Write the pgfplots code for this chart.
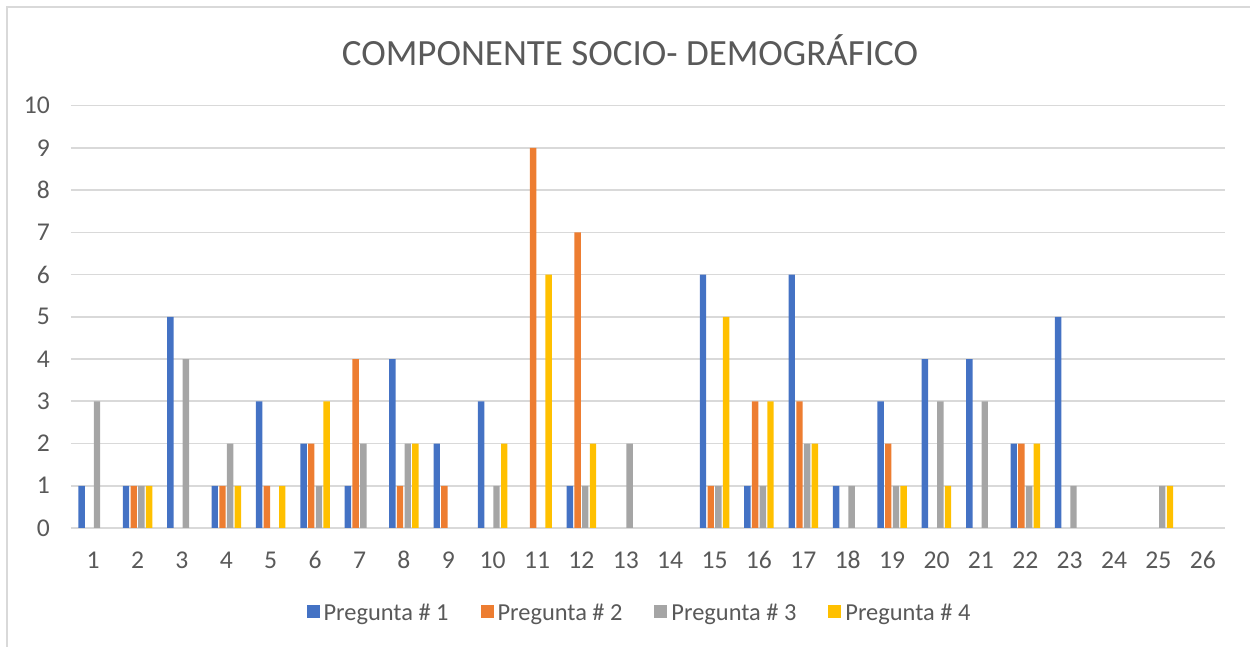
\documentclass[border=0pt]{standalone}
\usepackage{pgfplots}
\usepackage{fontspec}
\setmainfont{Carlito}
\pgfplotsset{compat=1.18}
\definecolor{xlblue}{HTML}{4472C4}
\definecolor{xlorange}{HTML}{ED7D31}
\definecolor{xlgray}{HTML}{A5A5A5}
\definecolor{xlgold}{HTML}{FFC000}
\definecolor{xltext}{HTML}{595959}
\definecolor{xlgrid}{HTML}{D9D9D9}

% x = pregunta item, columns = answers for Pregunta # 1..4
\pgfplotstableread{
x p1 p2 p3 p4
1  1 0 3 0
2  1 1 1 1
3  5 0 4 0
4  1 1 2 1
5  3 1 0 1
6  2 2 1 3
7  1 4 2 0
8  4 1 2 2
9  2 1 0 0
10 3 0 1 2
11 0 9 0 6
12 1 7 1 2
13 0 0 2 0
14 0 0 0 0
15 6 1 1 5
16 1 3 1 3
17 6 3 2 2
18 1 0 1 0
19 3 2 1 1
20 4 0 3 1
21 4 0 3 0
22 2 2 1 2
23 5 0 1 0
24 0 0 0 0
25 0 0 1 1
26 0 0 0 0
}\datatable

\begin{document}
\begin{tikzpicture}
\begin{axis}[
  scale only axis,
  width=577pt, height=211.2pt,
  ybar=0.65pt, bar width=3.2pt,
  xmin=0.5, xmax=26.5,
  ymin=0, ymax=10,
  xtick={1,...,26},
  ytick={0,1,...,10},
  axis line style={draw=none},
  major tick length=0pt,
  ymajorgrids,
  grid style={xlgrid, line width=0.8pt},
  tick label style={font=\fontsize{12.8}{14}\selectfont, text=xltext},
  /pgf/number format/assume math mode=true,
  xticklabel style={anchor=base, yshift=-20.3pt},
  yticklabel style={xshift=-7pt},
  unbounded coords=discard,
  y filter/.expression={y==0 ? nan : y},
  legend columns=4,
  legend style={draw=none, at={(0.4935,-0.204)}, anchor=center,
    font=\fontsize{12.2}{14}\selectfont, text=xltext,
    /tikz/every even column/.append style={column sep=14pt}},
  legend image code/.code={\fill[#1] (0pt,-1.8pt) rectangle (6.5pt,4.7pt);},
]
\addplot[fill=xlblue, draw=none] table[x=x, y=p1] {\datatable};
\addplot[fill=xlorange, draw=none] table[x=x, y=p2] {\datatable};
\addplot[fill=xlgray, draw=none] table[x=x, y=p3] {\datatable};
\addplot[fill=xlgold, draw=none] table[x=x, y=p4] {\datatable};
\legend{Pregunta \# 1, Pregunta \# 2, Pregunta \# 3, Pregunta \# 4}
\end{axis}
\node[text=xltext, font=\fontsize{18.5}{22}\selectfont] at (279.5pt,239pt) {COMPONENTE SOCIO- DEMOGRÁFICO};
\draw[xlgrid, line width=0.8pt] (-32pt,-59.5pt) -- (-32pt,260.5pt) -- (589.5pt,260.5pt);
\pgfresetboundingbox
\path (-35.5pt,-59.5pt) rectangle (589.5pt,264pt);
\end{tikzpicture}
\end{document}
